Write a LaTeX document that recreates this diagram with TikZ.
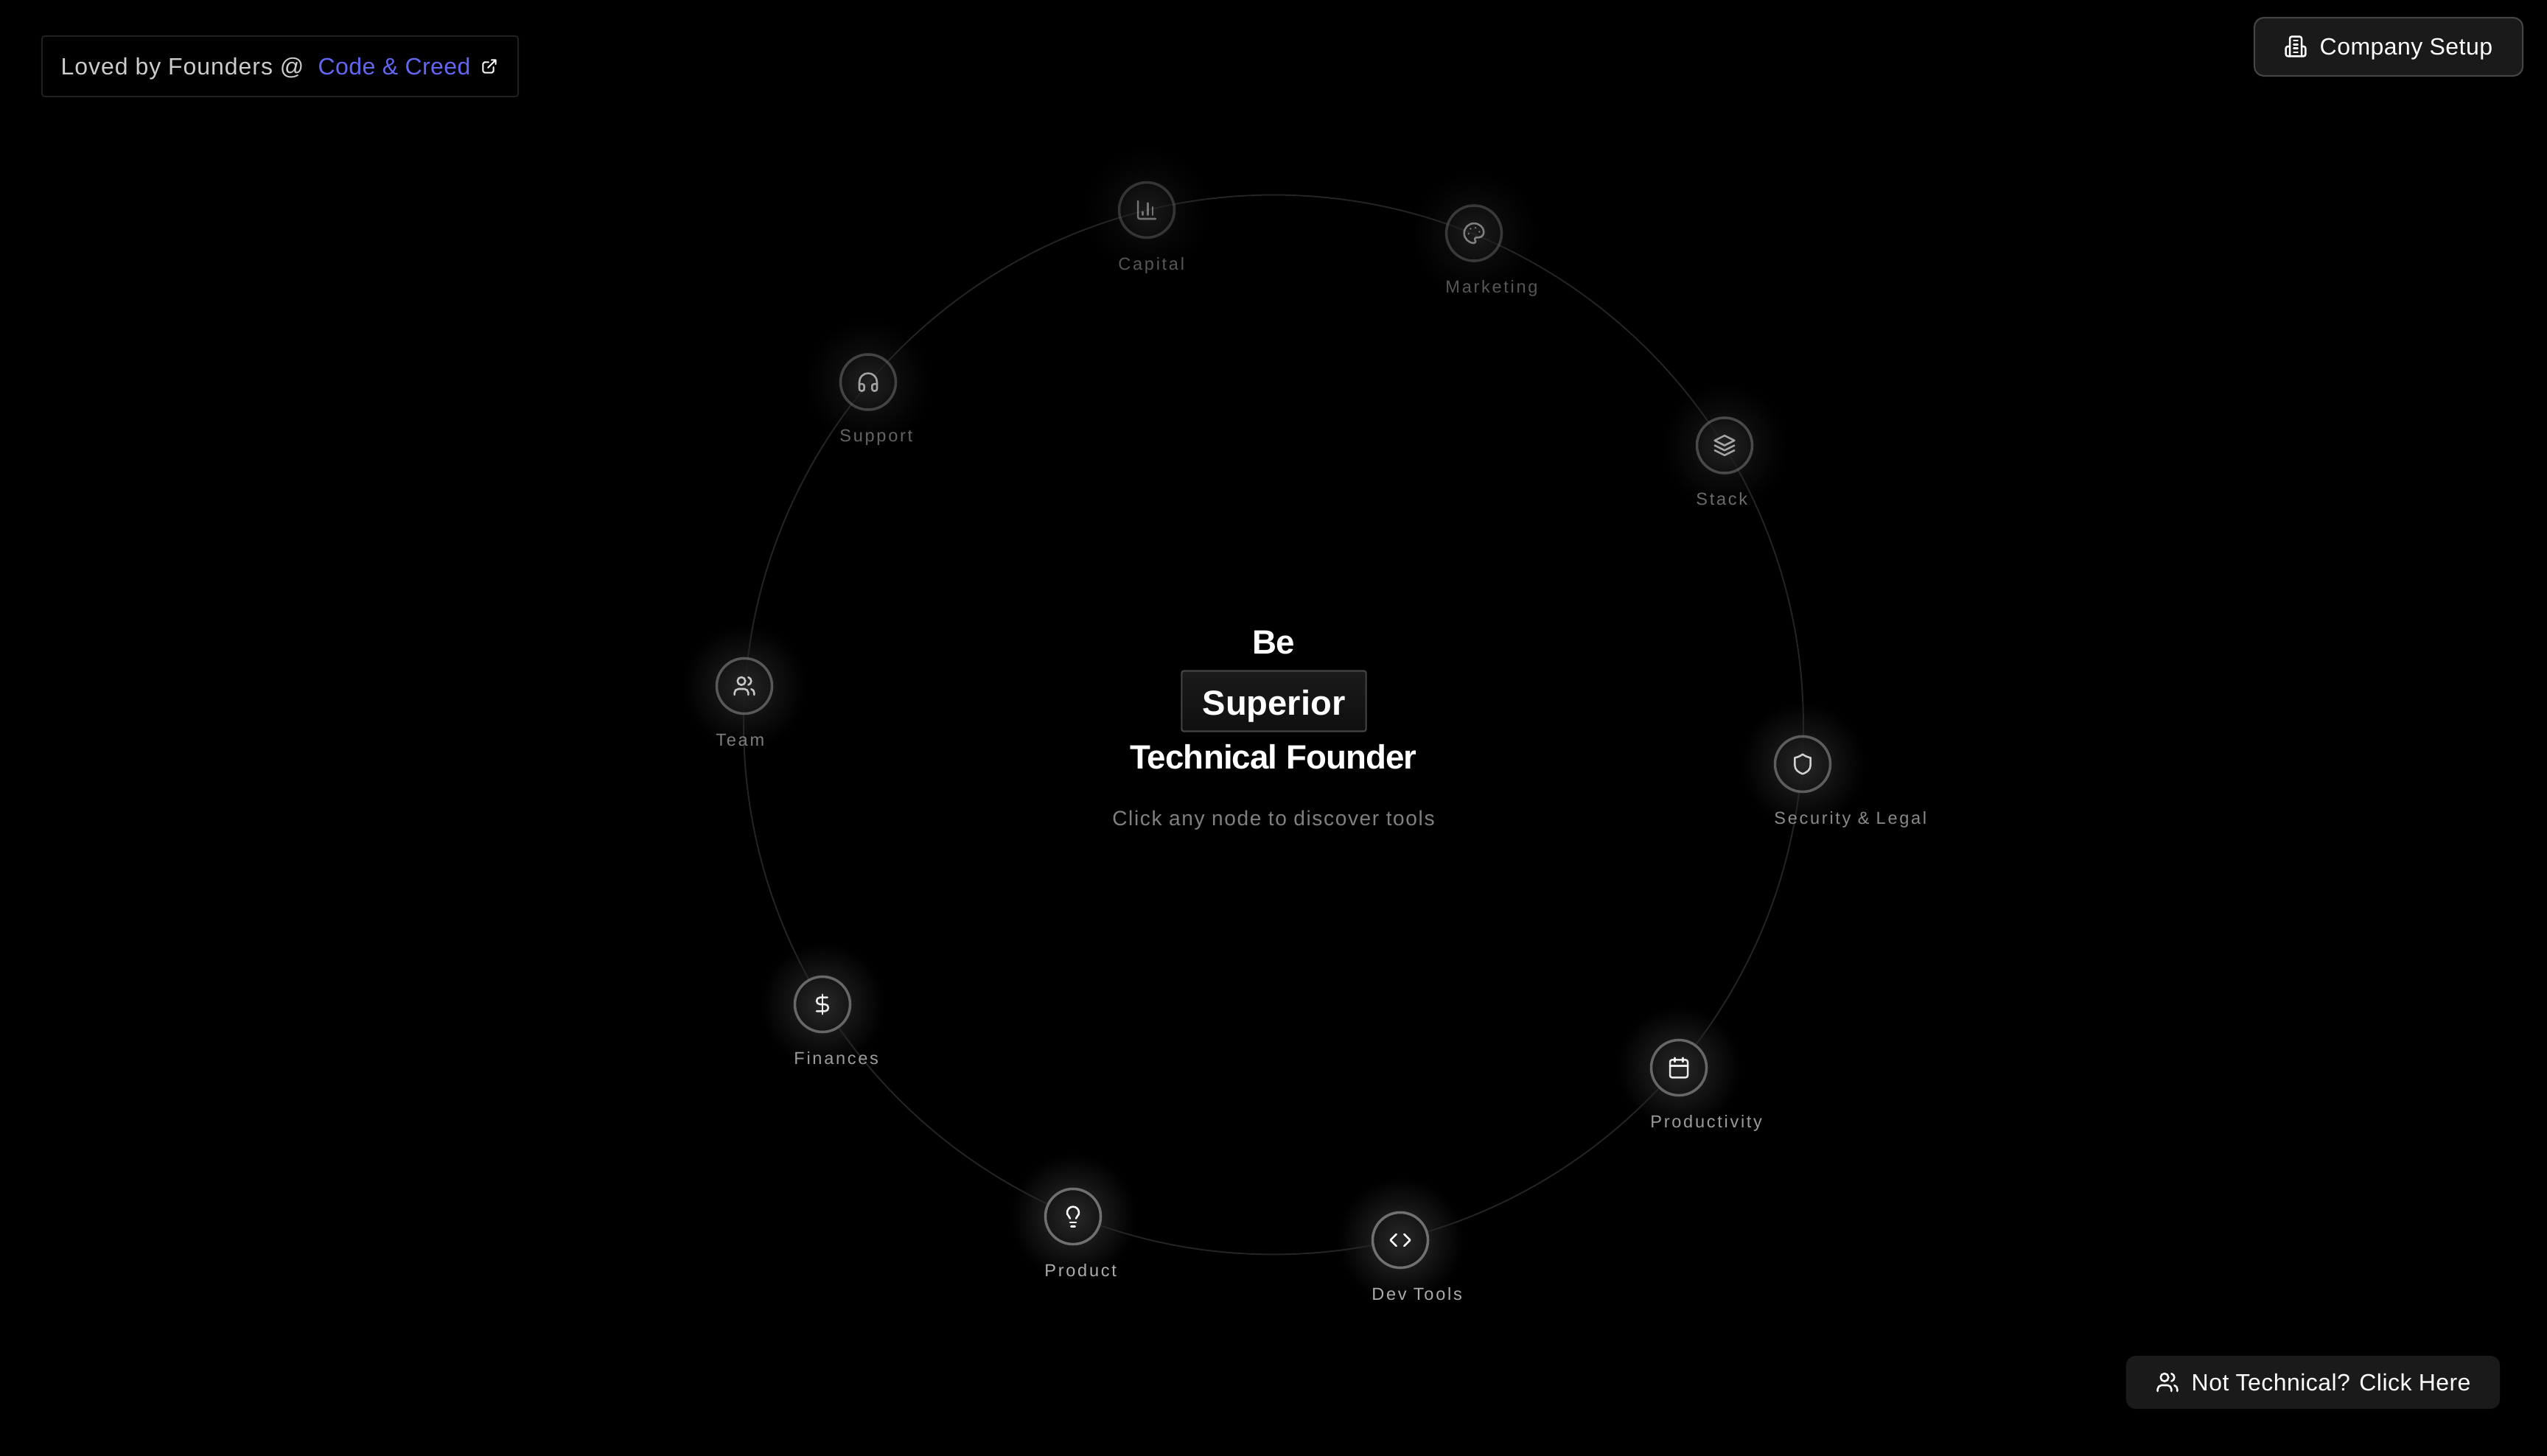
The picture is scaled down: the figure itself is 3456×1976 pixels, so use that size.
\documentclass[tikz,border=0pt]{standalone}
\usepackage{fontspec}
\usepackage{xcolor}
\setmainfont{Liberation Sans}
\newfontfamily\labelfont[LetterSpace=11.5]{Liberation Sans}
\newfontfamily\hintfont[LetterSpace=5.7]{Liberation Sans}
\newfontfamily\buttonfont[LetterSpace=1.4]{Liberation Sans}
\newfontfamily\badgefont[LetterSpace=3]{Liberation Sans}
\newfontfamily\titlefont[LetterSpace=-2]{Liberation Sans}
\definecolor{panelgray}{HTML}{1A1A1A}
\definecolor{edgegray}{HTML}{454545}
\definecolor{linkblue}{HTML}{6366F1}
\def\iconstroke{.72pt}

\tikzset{
    iconline/.style={shift={(-12,-12)}, line width=\iconstroke, line cap=round, line join=round},
    pics/chart/.style={code={
        \draw[iconline] (3,3) -- (3,19) arc[start angle=180, end angle=90, radius=2] -- (21,21);
        \draw[iconline] (18,17) -- (18,9) (13,17) -- (13,5) (8,17) -- (8,14);
    }},
    pics/palette/.style={code={
        \draw[iconline] (12,2) .. controls (6.5,2) and (2,6.5) .. (2,12) .. controls (2,17.5) and (6.5,22) .. (12,22)
            .. controls (12.9,22) and (13.65,21.25) .. (13.65,20.3) .. controls (13.65,19.9) and (13.47,19.5) .. (13.2,19.2)
            .. controls (12.9,18.9) and (12.77,18.5) .. (12.77,18.06) .. controls (12.77,17.1) and (13.5,16.4) .. (14.44,16.4)
            -- (16.44,16.4) .. controls (19.5,16.4) and (22,13.9) .. (22,10.84) .. controls (22,6) and (17.5,2) .. (12,2) -- cycle;
        \fill[shift={(-12,-12)}] (13.5,6.5) circle[radius=1] (17.5,10.5) circle[radius=1] (8.5,7.5) circle[radius=1] (6.5,12.5) circle[radius=1];
    }},
    pics/layers/.style={code={
        \draw[iconline] (12,2) -- (2,7) -- (12,12) -- (22,7) -- cycle;
        \draw[iconline] (2,17) -- (12,22) -- (22,17) (2,12) -- (12,17) -- (22,12);
    }},
    pics/shield/.style={code={
        \draw[iconline] (12,22) .. controls (16,20.5) and (20,18) .. (20,13) -- (20,5.5) .. controls (17,5) and (14.5,3.8) .. (12,2)
            .. controls (9.5,3.8) and (7,5) .. (4,5.5) -- (4,13) .. controls (4,18) and (8,20.5) .. (12,22) -- cycle;
    }},
    pics/calendar/.style={code={
        \draw[iconline, rounded corners=.8pt] (3,4) rectangle (21,22);
        \draw[iconline] (8,2) -- (8,6) (16,2) -- (16,6) (3,10) -- (21,10);
    }},
    pics/brackets/.style={code={
        \draw[iconline] (16,18) -- (22,12) -- (16,6) (8,6) -- (2,12) -- (8,18);
    }},
    pics/bulb/.style={code={
        \draw[iconline] (15,14) .. controls (15.2,13) and (15.7,12.3) .. (16.5,11.5) .. controls (17.5,10.6) and (18,9.3) .. (18,8)
            arc[start angle=0, end angle=-180, radius=6] .. controls (6,9) and (6.2,10.2) .. (7.5,11.5) .. controls (8.2,12.2) and (8.8,13) .. (9,14);
        \draw[iconline] (9,18) -- (15,18) (10,22) -- (14,22);
    }},
    pics/dollar/.style={code={
        \draw[iconline] (12,2) -- (12,22);
        \draw[iconline] (17,5) -- (9.5,5) arc[start angle=-90, end angle=-270, radius=3.5] -- (14.5,12)
            arc[start angle=-90, end angle=90, radius=3.5] -- (6,19);
    }},
    pics/people/.style={code={
        \draw[iconline] (16,21) -- (16,19) arc[start angle=0, end angle=-90, radius=4] -- (6,15)
            arc[start angle=-90, end angle=-180, radius=4] -- (2,21);
        \draw[iconline] (9,7) circle[radius=4];
        \draw[iconline] (22,21) -- (22,19) .. controls (22,17.2) and (20.8,15.6) .. (19,15.13);
        \draw[iconline] (16,3.13) .. controls (17.8,3.6) and (19,5.2) .. (19,7) .. controls (19,8.8) and (17.8,10.4) .. (16,10.88);
    }},
    pics/headset/.style={code={
        \draw[iconline] (3,14) -- (6,14) arc[start angle=-90, end angle=0, radius=2] -- (8,19)
            arc[start angle=0, end angle=90, radius=2] -- (5,21) arc[start angle=90, end angle=180, radius=2]
            -- (3,12) arc[start angle=180, end angle=360, radius=9] -- (21,19)
            arc[start angle=0, end angle=90, radius=2] -- (18,21) arc[start angle=90, end angle=180, radius=2]
            -- (16,16) arc[start angle=180, end angle=270, radius=2] -- (21,14);
    }},
    pics/building/.style={code={
        \draw[iconline] (6,22) -- (6,4) arc[start angle=180, end angle=270, radius=2] -- (16,2)
            arc[start angle=270, end angle=360, radius=2] -- (18,22) -- cycle;
        \draw[iconline] (6,12) -- (4,12) arc[start angle=270, end angle=180, radius=2] -- (2,20)
            arc[start angle=180, end angle=90, radius=2] -- (6,22);
        \draw[iconline] (18,12) -- (20,12) arc[start angle=270, end angle=360, radius=2] -- (22,20)
            arc[start angle=0, end angle=90, radius=2] -- (18,22);
        \draw[iconline] (10,6) -- (14,6) (10,10) -- (14,10) (10,14) -- (14,14) (10,18) -- (14,18);
    }},
    pics/outlink/.style={code={
        \draw[iconline] (18,13) -- (18,19) arc[start angle=0, end angle=90, radius=2] -- (5,21)
            arc[start angle=90, end angle=180, radius=2] -- (3,8) arc[start angle=180, end angle=270, radius=2] -- (11,6);
        \draw[iconline] (15,3) -- (21,3) -- (21,9) (10,14) -- (21,3);
    }},
}

\begin{document}
\begin{tikzpicture}[
    x=.01cm, y=-.01cm,
    halo/.style={circle, inner sep=0pt, minimum size=1.7cm, inner color=white!18!black, outer color=black, opacity=#1},
    orbit/.style={circle, draw=white!14!black, line width=.55pt, inner sep=0pt, minimum size=14.37cm},
    hub/.style={circle, draw=white!44!black, line width=1pt, inner sep=0pt, minimum size=.75cm, inner color=white!16!black, outer color=white!8!black, opacity=#1},
    hubtext/.style={anchor=base west, inner sep=0pt, yshift=-.81cm, text=white!68!black, opacity=#1, font=\labelfont\fontsize{6.7pt}{8pt}\selectfont},
    hubicon/.style={scale=1.333, color=white, opacity=#1},
    button/.style={rectangle, rounded corners=.13cm, fill=panelgray, inner sep=0pt},
    buttontext/.style={anchor=base west, text=white, inner sep=0pt, font=\buttonfont\fontsize{9.1pt}{11pt}\selectfont},
    headline/.style={anchor=base, text=white, inner sep=0pt, font=\titlefont\bfseries\fontsize{13pt}{15pt}\selectfont},
]
    \useasboundingbox (0,0) rectangle (3456,1976);
    \fill[black] (0,0) rectangle (3456,1976);
    % Glow behind the nodes
    \node[halo=.35] (capital) at (1556,285) {};
    \node[halo=.4] (marketing) at (2000,316.5) {};
    \node[halo=.55] (stack) at (2340,604.5) {};
    \node[halo=.8] (security) at (2446,1037) {};
    \node[halo=.9] (productivity) at (2278,1449) {};
    \node[halo=1] (devtools) at (1900,1683) {};
    \node[halo=1] (product) at (1456,1651) {};
    \node[halo=.9] (finances) at (1116,1363) {};
    \node[halo=.75] (team) at (1010,931) {};
    \node[halo=.5] (support) at (1178,518.5) {};
    % Ring
    \node[orbit] (ring) at (1728,983.5) {};
    % Nodes
    \node[hub=.42] (capitalhub) at (capital) {};
    \node[hub=.45] (marketinghub) at (marketing) {};
    \node[hub=.6] (stackhub) at (stack) {};
    \node[hub=.8] (securityhub) at (security) {};
    \node[hub=.9] (productivityhub) at (productivity) {};
    \node[hub=1] (devtoolshub) at (devtools) {};
    \node[hub=1] (producthub) at (product) {};
    \node[hub=.9] (financeshub) at (finances) {};
    \node[hub=.75] (teamhub) at (team) {};
    \node[hub=.55] (supporthub) at (support) {};
    % Icons
    \pic[hubicon=.4] at (capital) {chart};
    \pic[hubicon=.45] at (marketing) {palette};
    \pic[hubicon=.6] at (stack) {layers};
    \pic[hubicon=.8] at (security) {shield};
    \pic[hubicon=.9] at (productivity) {calendar};
    \pic[hubicon=1] at (devtools) {brackets};
    \pic[hubicon=1] at (product) {bulb};
    \pic[hubicon=.9] at (finances) {dollar};
    \pic[hubicon=.75] at (team) {people};
    \pic[hubicon=.6] at (support) {headset};
    % Labels
    \node[hubtext=.5] (capitallabel) at (capitalhub.west) {Capital};
    \node[hubtext=.5] (marketinglabel) at (marketinghub.west) {Marketing};
    \node[hubtext=.62] (stacklabel) at (stackhub.west) {Stack};
    \node[hubtext=.8] (securitylabel) at (securityhub.west) {Security \& Legal};
    \node[hubtext=.9] (productivitylabel) at (productivityhub.west) {Productivity};
    \node[hubtext=1] (devtoolslabel) at (devtoolshub.west) {Dev Tools};
    \node[hubtext=1] (productlabel) at (producthub.west) {Product};
    \node[hubtext=.9] (financeslabel) at (financeshub.west) {Finances};
    \node[hubtext=.72] (teamlabel) at (teamhub.west) {Team};
    \node[hubtext=.58] (supportlabel) at (supporthub.west) {Support};
    % Center title
    \node[headline] (be) at (1728,887.5) {Be};
    \node[rectangle, draw=edgegray, line width=.6pt, rounded corners=.03cm, top color=panelgray, bottom color=white!6!black,
        minimum width=2.5cm, minimum height=.82cm, inner sep=0pt, text height=.37cm, text depth=0cm, text=white,
        font=\bfseries\fontsize{13.4pt}{15pt}\selectfont] (superior) at (1728.5,951.5) {Superior};
    \node[headline] (founder) at (1728,1043.5) {Technical Founder};
    \node[anchor=base, text=white!50!black, inner sep=0pt, font=\hintfont\fontsize{8pt}{10pt}\selectfont] (hint) at (1728,1120) {Click any node to discover tools};
    % Top left badge
    \node[rectangle, draw=white!13!black, line width=.55pt, rounded corners=.04cm, minimum width=6.46cm, minimum height=.82cm, inner sep=0pt] (badge) at (380,90) {};
    \node[buttontext, text=white!80!black, font=\badgefont\fontsize{9.1pt}{11pt}\selectfont] (lovedby) at (82,102) {Loved by Founders @};
    \node[buttontext, text=linkblue] (creed) at (431,102) {Code \& Creed};
    \pic[scale=.95, color=white, /utils/exec={\def\iconstroke{.56pt}}] at (664,90) {outlink};
    % Top right button
    \node[button, draw=edgegray, line width=.6pt, minimum width=3.64cm, minimum height=.79cm] (setup) at (3241,63.5) {};
    \pic[scale=1.333, color=white] at (3115,63) {building};
    \node[buttontext] (setuptext) at (3147,75) {Company Setup};
    % Bottom right button
    \node[button, minimum width=5.07cm, minimum height=.72cm] (nontech) at (3138.5,1876) {};
    \pic[scale=1.333, color=white] at (2941,1876) {people};
    \node[buttontext] (nontechtext) at (2973,1887) {Not Technical? Click Here};
\end{tikzpicture}
\end{document}
